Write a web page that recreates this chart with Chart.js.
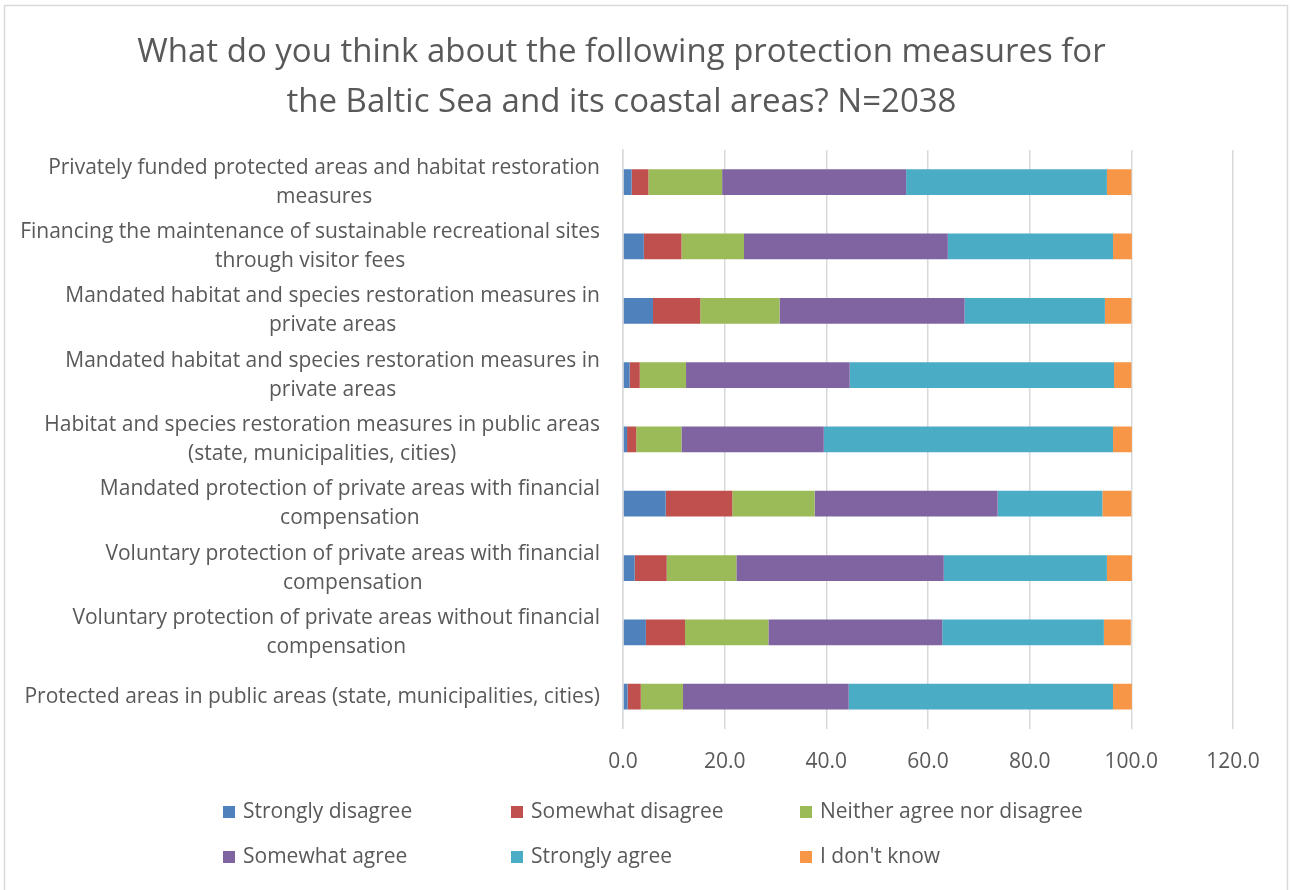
<!DOCTYPE html>
<html>
<head>
<meta charset="utf-8">
<script src="https://cdn.jsdelivr.net/npm/chart.js@4.4.1/dist/chart.umd.min.js"></script>
<style>
  body { margin: 0; background: #fff; }
  #wrap { width: 1290px; height: 890px; }
</style>
</head>
<body>
<div id="wrap"><canvas id="chart" width="1290" height="890"></canvas></div>
<script>
const categorias = [
  ['Privately funded protected areas and habitat restoration', 'measures'],
  ['Financing the maintenance of sustainable recreational sites', 'through visitor fees'],
  ['Mandated habitat and species restoration measures in', 'private areas'],
  ['Mandated habitat and species restoration measures in', 'private areas'],
  ['Habitat and species restoration measures in public areas', '(state, municipalities, cities)'],
  ['Mandated protection of private areas with financial', 'compensation'],
  ['Voluntary protection of private areas with financial', 'compensation'],
  ['Voluntary protection of private areas without financial', 'compensation'],
  ['Protected areas in public areas (state, municipalities, cities)']
];

const stronglyDisagree = [1.7, 4.1, 5.9, 1.3, 0.8, 8.4, 2.3, 4.5, 0.9];
const somewhatDisagree = [3.3, 7.4, 9.3, 2.0, 1.8, 13.1, 6.3, 7.7, 2.6];
const neither = [14.5, 12.3, 15.6, 9.1, 8.9, 16.2, 13.7, 16.4, 8.3];
const somewhatAgree = [36.2, 40.1, 36.4, 32.2, 28.0, 36.0, 40.8, 34.2, 32.6];
const stronglyAgree = [39.5, 32.5, 27.6, 52.0, 56.9, 20.6, 32.1, 31.8, 52.0];
const dontKnow = [4.8, 3.7, 5.2, 3.4, 3.7, 5.7, 4.9, 5.3, 3.7];

const series = ['Strongly disagree', 'Somewhat disagree', 'Neither agree nor disagree', 'Somewhat agree', 'Strongly agree', "I don't know"];
const cores = ['#4F81BD', '#C0504D', '#9BBB59', '#8064A2', '#4BACC6', '#F79646'];

const titulo = [
  'What do you think about the following protection measures for',
  'the Baltic Sea and its coastal areas? N=2038'
];

const fonte = "'Open Sans', sans-serif";
const cinza = '#595959';

// fundo branco + borda clara
const fundo = {
  id: 'fundo',
  beforeDraw(chart) {
    const ctx = chart.ctx;
    ctx.save();
    ctx.fillStyle = '#fff';
    ctx.fillRect(0, 0, chart.width, chart.height);
    ctx.strokeStyle = '#d9d9d9';
    ctx.lineWidth = 1.5;
    ctx.strokeRect(4.5, 5.5, 1283, 900);
    ctx.restore();
  }
};

// rotulos do eixo y: bloco alinhado a direita, linhas centradas no bloco
const rotulosY = {
  id: 'rotulosY',
  afterDraw(chart) {
    const ctx = chart.ctx;
    const y = chart.scales.y;
    ctx.save();
    ctx.font = '21px ' + fonte;
    ctx.fillStyle = cinza;
    ctx.textAlign = 'center';
    ctx.textBaseline = 'middle';
    chart.data.labels.forEach((linhas, i) => {
      const centro = y.getPixelForTick(i);
      const largura = Math.max(...linhas.map(l => ctx.measureText(l).width));
      const cx = 600 - largura / 2;
      linhas.forEach((l, j) => {
        ctx.fillText(l, cx, centro + (j - (linhas.length - 1) / 2) * 29);
      });
    });
    ctx.restore();
  }
};

// legenda em grade 3x2
const legenda = {
  id: 'legenda',
  afterDraw(chart) {
    const ctx = chart.ctx;
    const colunas = [223, 511, 800];
    const linhas = [812, 857];
    ctx.save();
    ctx.font = '21px ' + fonte;
    ctx.textBaseline = 'middle';
    ctx.textAlign = 'left';
    chart.data.datasets.forEach((ds, i) => {
      const x = colunas[i % 3];
      const yy = linhas[Math.floor(i / 3)];
      ctx.fillStyle = ds.backgroundColor;
      ctx.fillRect(x, yy - 6, 12, 12);
      ctx.fillStyle = cinza;
      ctx.fillText(ds.label, x + 20, yy);
    });
    ctx.restore();
  }
};

const valores = [stronglyDisagree, somewhatDisagree, neither, somewhatAgree, stronglyAgree, dontKnow];

new Chart(document.getElementById('chart'), {
  type: 'bar',
  data: {
    labels: categorias,
    datasets: series.map((nome, i) => ({
      label: nome,
      data: valores[i],
      backgroundColor: cores[i],
      borderWidth: 0,
      barPercentage: 0.8,
      categoryPercentage: 0.5
    }))
  },
  plugins: [fundo, rotulosY, legenda],
  options: {
    indexAxis: 'y',
    responsive: false,
    animation: false,
    devicePixelRatio: 1,
    layout: {
      padding: { left: 10, right: 57, top: 0, bottom: 94 }
    },
    scales: {
      x: {
        stacked: true,
        min: 0,
        max: 120,
        ticks: {
          stepSize: 20,
          padding: 21,
          color: cinza,
          font: { family: fonte, size: 21 },
          callback: v => v.toFixed(1)
        },
        grid: { color: '#d9d9d9', lineWidth: 1.5, drawTicks: false },
        border: { display: false }
      },
      y: {
        stacked: true,
        ticks: { display: false },
        grid: { display: false },
        border: { color: '#d9d9d9', width: 1.5 },
        afterFit: scale => { scale.width = 613; }
      }
    },
    plugins: {
      legend: { display: false },
      tooltip: { enabled: false },
      title: {
        display: true,
        text: titulo,
        color: cinza,
        font: { family: fonte, size: 33, weight: 'normal', lineHeight: 1.515 },
        padding: { top: 28, bottom: 22 }
      }
    }
  }
});
</script>
</body>
</html>
